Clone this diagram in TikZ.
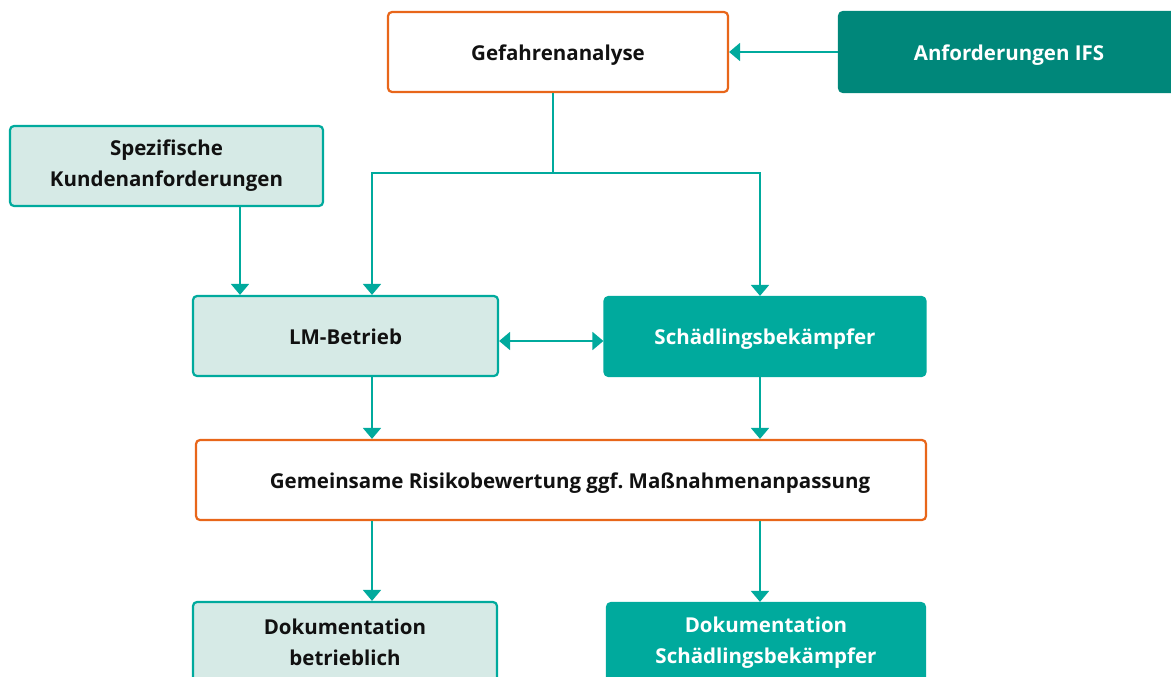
\documentclass[tikz,border=0pt]{standalone}
\usepackage{fontspec}
\setmainfont{Open Sans}
\frenchspacing
\usetikzlibrary{arrows.meta,calc}
\definecolor{orng}{HTML}{E8661A}
\definecolor{teal1}{HTML}{00AA9D}
\definecolor{tealdark}{HTML}{00877A}
\definecolor{teallight}{HTML}{D6EAE6}
\definecolor{txt}{HTML}{111111}
\newcommand{\lowtxt}[2]{\raisebox{-#1}[\height][\depth]{#2}}
\tikzset{
  base/.style={rectangle, rounded corners=4pt, line width=2.2pt, align=center,
    font=\fontsize{20.5}{31}\selectfont\bfseries, inner sep=0pt},
  orbox/.style={base, draw=orng, fill=white, text=txt},
  lightbox/.style={base, draw=teal1, fill=teallight, text=txt},
  tealbox/.style={base, draw=teal1, fill=teal1, text=white},
  darkbox/.style={base, draw=tealdark, fill=tealdark, text=white},
  conn/.style={draw=teal1, line width=2pt},
  arr/.style={conn, -{Triangle[length=11pt,width=18pt]}},
  arrb/.style={conn, {Triangle[length=11pt,width=18pt]}-{Triangle[length=11pt,width=18pt]}},
}
\begin{document}
\begin{tikzpicture}[x=1pt,y=-1pt]
\useasboundingbox (0,0) rectangle (1171,677);
\clip (0,0) rectangle (1171,677);
\node[orbox, minimum width=340pt, minimum height=80pt] (gef) at (558,52) {\lowtxt{3pt}{Gefahrenanalyse}};
\node[darkbox, minimum width=340pt, minimum height=80pt] (ifs) at (1009,52) {\lowtxt{3pt}{Anforderungen IFS}};
\node[lightbox, minimum width=313pt, minimum height=80pt] (spez) at (166.5,166) {Spezifische\\Kundenanforderungen};
\node[lightbox, minimum width=305pt, minimum height=80pt] (lm) at (345.5,336) {\lowtxt{1pt}{LM-Betrieb}};
\node[tealbox, minimum width=321pt, minimum height=79pt] (sch) at (765,336.5) {\lowtxt{3pt}{Schädlingsbekämpfer}};
\node[orbox, minimum width=730pt, minimum height=80pt] (gem) at (561,480) {\hspace*{18pt}\lowtxt{3pt}{Gemeinsame Risikobewertung ggf. Maßnahmenanpassung}};
\node[lightbox, minimum width=304pt, minimum height=80pt] (dokb) at (345,642) {Dokumentation\\betrieblich};
\node[tealbox, minimum width=318pt, minimum height=80pt] (doks) at (766,643) {Dokumentation\\Schädlingsbekämpfer};
\coordinate (xa) at (240,0);
\coordinate (xb) at (372,0);
\coordinate (xc) at (760,0);
\coordinate (xg) at (553,0);
\coordinate (jl) at (372,173);
\coordinate (jr) at (760,173);
\draw[arr] (ifs.west) -- (gef.east);
\draw[arr] (gef.south -| xg) |- (jl) -- (lm.north -| xb);
\draw[arr] (gef.south -| xg) |- (jr) -- (sch.north -| xc);
\draw[arr] (spez.south -| xa) -- (lm.north -| xa);
\draw[arrb] ($(lm.east)+(0,5)$) -- ($(sch.west)+(0,4.5)$);
\draw[arr] (lm.south -| xb) -- (gem.north -| xb);
\draw[arr] (sch.south -| xc) -- (gem.north -| xc);
\draw[arr] (gem.south -| xb) -- (dokb.north -| xb);
\draw[arr] (gem.south -| xc) -- (doks.north -| xc);
\end{tikzpicture}
\end{document}
